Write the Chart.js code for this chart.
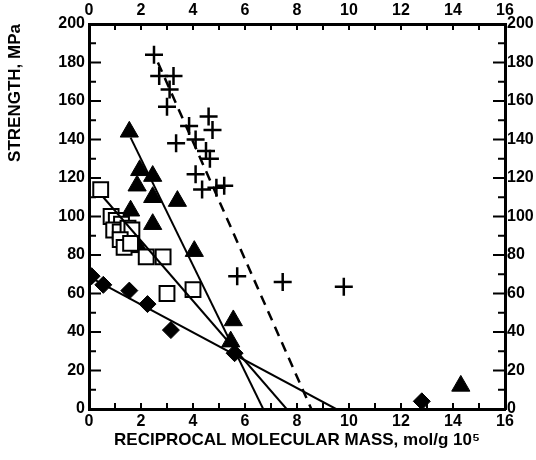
<!DOCTYPE html>
<html lang="en">
<head>
<meta charset="UTF-8">
<title>Strength vs reciprocal molecular mass</title>
<style>
  html, body { margin: 0; padding: 0; background: #fff; }
  .chartBox { width: 536px; height: 460px; }
</style>
</head>
<body>
<div class="chartBox">
  <canvas id="myChart" width="536" height="460"></canvas>
</div>

<script src="https://cdn.jsdelivr.net/npm/chart.js"></script>
<script>
// values: x = reciprocal molecular mass (mol/g 10^5), y = strength (MPa)
const crossX = [2.5, 2.7, 3.25, 3.1, 3.0, 3.85, 4.6, 4.75, 3.35, 4.1, 4.5, 4.65, 4.1, 4.35, 4.9, 5.2, 5.7, 7.45, 9.8];
const crossY = [184, 173, 173, 166, 157, 147, 152, 145, 138, 140, 134, 130, 122, 114, 115, 116, 69, 66, 63.5];

const squareX = [0.45, 0.85, 1.05, 1.25, 0.95, 1.2, 1.5, 1.65, 1.2, 1.35, 1.6, 2.2, 2.85, 3.0, 4.0];
const squareY = [114, 100, 98, 96, 93, 92, 94, 93, 88, 84, 86, 79, 79, 60, 62];

const triX = [1.55, 1.95, 2.45, 1.85, 2.45, 3.4, 1.6, 2.45, 1.65, 1.9, 4.05, 5.55, 5.45, 14.3];
const triY = [144, 124, 121, 116, 110, 108, 103, 96, 84, 84, 82, 46, 35, 12];

const diaX = [0.1, 0.55, 1.55, 2.25, 3.15, 5.6, 12.8];
const diaY = [69, 64.5, 61.5, 54.5, 41, 29, 4];

// fitted lines (end points)
const triLineX = [1.6, 6.7];
const triLineY = [141, 0];
const sqLineX = [0.55, 7.6];
const sqLineY = [110, 0];
const diaLineX = [0.1, 9.5];
const diaLineY = [68, 0];
const crossLineX = [2.65, 8.55];
const crossLineY = [180, 0];

const xTicks = [0, 2, 4, 6, 8, 10, 12, 14, 16];
const yTicks = [0, 20, 40, 60, 80, 100, 120, 140, 160, 180, 200];

const pts = (xs, ys) => xs.map((x, i) => ({x: x, y: ys[i]}));

const tickFont = {family: 'Liberation Sans', size: 16, weight: 'bold'};

// ticks of this figure point into the plot, on all four sides
const innerTicks = {
  id: 'innerTicks',
  afterDraw(chart) {
    const c = chart.ctx, a = chart.chartArea;
    const s = chart.scales;
    c.save();
    c.strokeStyle = '#000';
    c.lineWidth = 2;
    c.beginPath();
    for (let v = 0; v <= 16; v++) {
      const px = s.x.getPixelForValue(v);
      c.moveTo(px, a.bottom); c.lineTo(px, a.bottom - 6);
      c.moveTo(px, a.top); c.lineTo(px, a.top + 6);
    }
    for (let v = 0; v <= 200; v += 10) {
      const py = s.y.getPixelForValue(v);
      const len = v % 20 === 0 ? 12 : 7;
      c.moveTo(a.left, py); c.lineTo(a.left + len, py);
      c.moveTo(a.right, py); c.lineTo(a.right - len, py);
    }
    c.stroke();
    c.restore();
  }
};

const ctx = document.getElementById('myChart');
new Chart(ctx, {
  type: 'scatter',
  data: {
    datasets: [
      {data: pts(triLineX, triLineY), showLine: true, borderColor: '#000', borderWidth: 2, pointRadius: 0},
      {data: pts(sqLineX, sqLineY), showLine: true, borderColor: '#000', borderWidth: 2, pointRadius: 0},
      {data: pts(diaLineX, diaLineY), showLine: true, borderColor: '#000', borderWidth: 2, pointRadius: 0},
      {data: pts(crossLineX, crossLineY), showLine: true, borderColor: '#000', borderWidth: 2.5, borderDash: [10, 7], pointRadius: 0},
      {data: pts(squareX, squareY), pointStyle: 'rect', pointRadius: 10.5, backgroundColor: '#fff', borderColor: '#000', borderWidth: 2},
      {data: pts(triX, triY), pointStyle: 'triangle', pointRadius: 10.5, backgroundColor: '#000', borderColor: '#000', borderWidth: 1},
      {data: pts(diaX, diaY), pointStyle: 'rectRot', pointRadius: 8.5, backgroundColor: '#000', borderColor: '#000', borderWidth: 1},
      {data: pts(crossX, crossY), pointStyle: 'cross', pointRadius: 9, borderColor: '#000', borderWidth: 2.5}
    ]
  },
  options: {
    responsive: false,
    animation: false,
    layout: {padding: 0},
    plugins: {legend: {display: false}, tooltip: {enabled: false}},
    scales: {
      x: {
        type: 'linear', position: 'bottom', min: 0, max: 16,
        afterBuildTicks: s => { s.ticks = xTicks.map(v => ({value: v})); },
        afterFit: s => { s.height = 51; },
        border: {color: '#000', width: 3},
        grid: {drawOnChartArea: false, drawTicks: false},
        ticks: {color: '#000', font: tickFont, padding: 3, maxRotation: 0, autoSkip: false},
        title: {display: true, text: 'RECIPROCAL MOLECULAR MASS, mol/g 10\u2075', color: '#000',
                font: {family: 'Liberation Sans', size: 17, weight: 'bold'}, padding: {top: 0, bottom: 9}}
      },
      x2: {
        type: 'linear', position: 'top', min: 0, max: 16,
        afterBuildTicks: s => { s.ticks = xTicks.map(v => ({value: v})); },
        afterFit: s => { s.height = 24; },
        border: {color: '#000', width: 3},
        grid: {drawOnChartArea: false, drawTicks: false},
        ticks: {color: '#000', font: tickFont, padding: 4, maxRotation: 0, autoSkip: false}
      },
      y: {
        type: 'linear', position: 'left', min: 0, max: 200,
        afterBuildTicks: s => { s.ticks = yTicks.map(v => ({value: v})); },
        afterFit: s => { s.width = 89; },
        border: {color: '#000', width: 3},
        grid: {drawOnChartArea: false, drawTicks: false},
        ticks: {color: '#000', font: tickFont, padding: 4, autoSkip: false},
        title: {display: true, text: 'STRENGTH, MPa', align: 'end', color: '#000',
                font: {family: 'Liberation Sans', size: 17, weight: 'bold'}, padding: {top: 5, bottom: 0}}
      },
      y2: {
        type: 'linear', position: 'right', min: 0, max: 200,
        afterBuildTicks: s => { s.ticks = yTicks.map(v => ({value: v})); },
        afterFit: s => { s.width = 31; },
        border: {color: '#000', width: 3},
        grid: {drawOnChartArea: false, drawTicks: false},
        ticks: {color: '#000', font: tickFont, padding: 2, autoSkip: false}
      }
    }
  },
  plugins: [innerTicks]
});
</script>
</body>
</html>
